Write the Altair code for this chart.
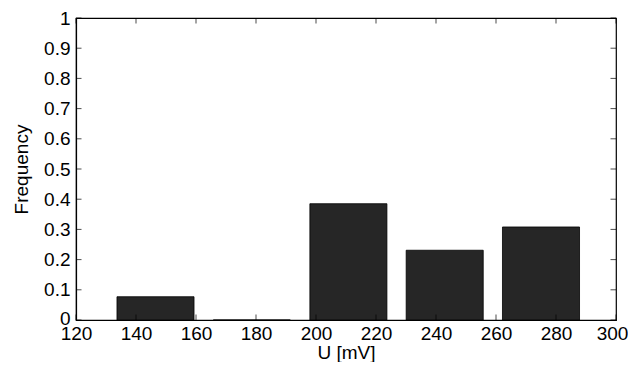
import altair as alt
import pandas as pd

# Histogram bin centres (mV) and relative frequencies
bin_centers = [146.5, 178.6, 210.8, 242.9, 275.0]
frequencies = [0.077, 0.0, 0.385, 0.231, 0.308]

x_ticks = [120, 140, 160, 180, 200, 220, 240, 260, 280, 300]
y_ticks = [0, 0.1, 0.2, 0.3, 0.4, 0.5, 0.6, 0.7, 0.8, 0.9, 1]

spacing = bin_centers[1] - bin_centers[0]
bars = pd.DataFrame({
    "left": [c - 0.4 * spacing for c in bin_centers],
    "right": [c + 0.4 * spacing for c in bin_centers],
    "freq": frequencies,
    "base": [0.0] * len(bin_centers),
})

FONT = "Liberation Sans"
FS = 19

xscale = alt.Scale(domain=[120, 300], nice=False, zero=False)
yscale = alt.Scale(domain=[0, 1], nice=False)

xaxis = alt.Axis(values=x_ticks, ticks=False, grid=False, labelFlush=False,
                 labelOverlap=False, labelPadding=4, title="U [mV]",
                 titlePadding=0,
                 labelOffset={"condition": {"test": "datum.value == 300", "value": -4},
                              "value": 0})
yaxis = alt.Axis(values=y_ticks, ticks=False, grid=False, format=".1~f",
                 labelOverlap=False, labelPadding=6, labelFlush=False,
                 title="Frequency", titlePadding=12,
                 labelOffset={"condition": {"test": "datum.value == 0", "value": -2},
                              "value": 0})

bar_layer = alt.Chart(bars).mark_bar(
    color="#262626", stroke="#000000", strokeWidth=0.8
).encode(
    x=alt.X("left:Q", scale=xscale, axis=xaxis),
    x2="right:Q",
    y=alt.Y("freq:Q", scale=yscale, axis=yaxis),
    y2="base:Q",
)

xt = pd.DataFrame({"x": x_ticks, "ylo": [0] * len(x_ticks), "yhi": [1] * len(x_ticks)})
yt = pd.DataFrame({"y": y_ticks, "xlo": [120] * len(y_ticks), "xhi": [300] * len(y_ticks)})

TL = 5.5
tick_b = alt.Chart(xt).mark_tick(orient="vertical", size=TL, thickness=1,
                                 color="black", yOffset=-TL / 2).encode(
    x=alt.X("x:Q", scale=xscale, axis=xaxis), y=alt.Y("ylo:Q", scale=yscale, axis=yaxis))
tick_t = alt.Chart(xt).mark_tick(orient="vertical", size=TL, thickness=1,
                                 color="black", yOffset=TL / 2).encode(
    x=alt.X("x:Q", scale=xscale, axis=xaxis), y=alt.Y("yhi:Q", scale=yscale, axis=yaxis))
tick_l = alt.Chart(yt).mark_tick(orient="horizontal", size=TL, thickness=1,
                                 color="black", xOffset=TL / 2).encode(
    x=alt.X("xlo:Q", scale=xscale, axis=xaxis), y=alt.Y("y:Q", scale=yscale, axis=yaxis))
tick_r = alt.Chart(yt).mark_tick(orient="horizontal", size=TL, thickness=1,
                                 color="black", xOffset=-TL / 2).encode(
    x=alt.X("xhi:Q", scale=xscale, axis=xaxis), y=alt.Y("y:Q", scale=yscale, axis=yaxis))

chart = alt.layer(bar_layer, tick_b, tick_t, tick_l, tick_r).properties(
    width=540, height=302,
    background="white",
    autosize=alt.AutoSizeParams(type="none"),
    padding={"left": 68, "top": 10, "right": 12, "bottom": 42},
).configure_view(
    stroke="black", strokeWidth=1.2
).configure_axis(
    labelFont=FONT, labelFontSize=FS, labelColor="black",
    titleFont=FONT, titleFontSize=FS, titleFontWeight="normal", titleColor="black",
    domainColor="black", domainWidth=1.2,
)

chart.save("out.html", embed_options={"renderer": "svg", "actions": False})
